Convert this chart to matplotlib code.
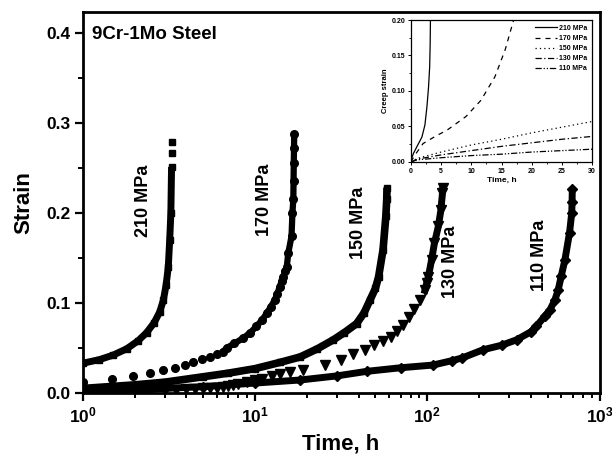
import math
import matplotlib
matplotlib.use("Agg")
import matplotlib.pyplot as plt
from matplotlib.ticker import MultipleLocator, LogLocator, NullFormatter, FuncFormatter

plt.rcParams['font.family'] = ['Liberation Sans', 'DejaVu Sans']
plt.rcParams['font.weight'] = 'bold'
plt.rcParams['mathtext.fontset'] = 'custom'
plt.rcParams['mathtext.rm'] = 'Liberation Sans:bold'
plt.rcParams['mathtext.bf'] = 'Liberation Sans:bold'

# main chart data: time (h) vs strain
t210 = [1.0, 1.25, 1.5, 1.8, 2.1, 2.35, 2.6, 2.8, 2.94, 3.05, 3.14, 3.2, 3.25, 3.28]
e210 = [0.033, 0.037, 0.042, 0.049, 0.058, 0.067, 0.078, 0.09, 0.103, 0.12, 0.14, 0.17, 0.2, 0.251]
t210_end = [3.30, 3.30]
e210_end = [0.266, 0.279]

t170 = [1.0, 1.47, 1.95, 2.46, 2.94, 3.43, 3.92, 4.38, 4.9, 5.47, 5.99, 6.55, 6.85, 7.6,
        8.56, 9.4, 10.2, 11.0, 11.7, 12.4, 13.0, 13.5, 13.9, 14.3, 14.6, 15.0, 15.3, 15.6,
        16.3, 16.5, 16.7, 16.75, 16.8, 16.85, 16.9]
e170 = [0.0126, 0.0155, 0.019, 0.0226, 0.0256, 0.028, 0.031, 0.034, 0.0374, 0.040, 0.043, 0.046, 0.050, 0.055,
        0.061, 0.067, 0.074, 0.081, 0.0885, 0.096, 0.103, 0.11, 0.118, 0.124, 0.129, 0.135, 0.140, 0.155,
        0.174, 0.20, 0.215, 0.235, 0.255, 0.272, 0.287]

t150 = [1.0, 2.0, 3.0, 5.0, 7.0, 10.0, 14.0, 18.3, 23.0, 28.5, 33.0, 38.9, 43.0, 46.5, 50.0,
        52.2, 55.4, 57.5, 58.2, 58.4]
e150 = [0.005, 0.009, 0.012, 0.018, 0.022, 0.027, 0.034, 0.040, 0.049, 0.059, 0.067, 0.077, 0.089, 0.103, 0.116,
        0.129, 0.159, 0.196, 0.215, 0.228]

t130 = [1.5, 2.0, 2.5, 3.0, 3.5, 4.0, 4.5, 5.0, 5.5, 6.0, 6.5, 7.0, 7.5, 8.0, 9.0, 10.0, 11.0,
        12.5, 14.0, 16.0, 19.1, 25.5, 31.4, 37.2, 43.7, 49.1, 55.0, 61.3, 66.9, 72.3, 78.6, 84.0,
        90.5, 97.0, 99.3, 101.5, 106.0, 110.0, 116.0, 120.0, 122.6, 123.0]
e130 = [0.001, 0.002, 0.002, 0.003, 0.003, 0.004, 0.004, 0.005, 0.005, 0.006, 0.007, 0.008, 0.009, 0.010, 0.012, 0.014, 0.016,
        0.019, 0.021, 0.0235, 0.0256, 0.031, 0.037, 0.043, 0.048, 0.053, 0.0578, 0.0626, 0.069, 0.0756, 0.084, 0.093,
        0.103, 0.114, 0.122, 0.129, 0.148, 0.166, 0.185, 0.203, 0.222, 0.228]

t110 = [1.0, 2.0, 3.0, 5.0, 10.0, 18.3, 30.0, 44.5, 70.0, 108.0, 140.0, 160.0, 211.0, 270.0, 330.0,
        400.0, 430.0, 480.0, 515.0, 550.0, 575.0, 600.0, 630.0, 670.0, 690.0, 693.0, 695.0]
e110 = [0.002, 0.003, 0.005, 0.007, 0.011, 0.0144, 0.019, 0.024, 0.028, 0.031, 0.036, 0.039, 0.048, 0.053, 0.059,
        0.068, 0.074, 0.085, 0.092, 0.103, 0.114, 0.13, 0.148, 0.178, 0.2, 0.212, 0.226]

# inset data: creep strain vs time (h)
it210 = [0, 0.1, 0.4, 1.0, 1.8, 2.3, 2.64, 2.9, 3.09, 3.17, 3.22]
ie210 = [0, 0.005, 0.012, 0.022, 0.035, 0.052, 0.078, 0.105, 0.134, 0.165, 0.2]
it170 = [0, 0.5, 2.0, 4.0, 6.0, 9.1, 11.6, 13.9, 15.6, 17.0]
ie170 = [0, 0.008, 0.026, 0.036, 0.045, 0.064, 0.087, 0.12, 0.158, 0.2]
it150 = [0, 1, 5, 10, 15, 20, 25, 30]
ie150 = [0, 0.005, 0.014, 0.024, 0.032, 0.041, 0.049, 0.057]
it130 = [0, 1, 5, 10, 15, 20, 25, 30]
ie130 = [0, 0.004, 0.010, 0.016, 0.022, 0.027, 0.032, 0.036]
it110 = [0, 1, 5, 10, 15, 20, 25, 30]
ie110 = [0, 0.003, 0.006, 0.009, 0.011, 0.014, 0.016, 0.018]
inset_labels = ['210 MPa', '170 MPa', '150 MPa', '130 MPa', '110 MPa']

fig = plt.figure(figsize=(6.12, 4.62), dpi=100)
ax = fig.add_axes([0.1351, 0.1494, 0.8445, 0.8247])

k = 'black'
# 210 MPa squares
ax.plot(t210, e210, '-', color=k, lw=5, solid_capstyle='butt')
ax.plot(t210, e210, 's', color=k, ms=5)
ax.plot(t210_end, e210_end, 's', color=k, ms=5)
# 170 MPa circles
ax.plot(t170[11:], e170[11:], '-', color=k, lw=4.5)
ax.plot(t170, e170, 'o', color=k, ms=5.5)
# 150 MPa squares
ax.plot(t150, e150, '-', color=k, lw=5.5, solid_capstyle='butt')
ax.plot(t150, e150, 's', color=k, ms=5)
# 110 MPa diamonds
ax.plot(t110, e110, '-', color=k, lw=5, solid_capstyle='butt')
ax.plot(t110, e110, 'D', color=k, ms=5)
# 130 MPa triangles
ax.plot(t130[33:], e130[33:], '-', color=k, lw=5)
ax.plot(t130, e130, 'v', color=k, ms=6.5)

ax.set_xscale('log')
ax.set_xlim(1, 1000)
ax.set_ylim(0, 0.423)
ax.yaxis.set_major_locator(MultipleLocator(0.1))
ax.yaxis.set_minor_locator(MultipleLocator(0.05))
ax.xaxis.set_major_locator(LogLocator(base=10))
ax.xaxis.set_minor_locator(LogLocator(base=10, subs=range(2, 10)))
ax.xaxis.set_minor_formatter(NullFormatter())
ax.xaxis.set_major_formatter(FuncFormatter(lambda v, p: r'$\mathbf{10^{%d}}$' % round(math.log10(v))))
ax.yaxis.set_major_formatter(FuncFormatter(lambda v, p: '%.1f' % v))
ax.tick_params(which='major', direction='out', length=6, width=1.6, labelsize=12.5, pad=3)
ax.tick_params(which='minor', direction='out', length=3.5, width=1.4)
ax.tick_params(top=False, right=False, which='both')
for s in ax.spines.values():
    s.set_linewidth(2.0)
ax.set_xlabel('Time, h', fontsize=16, fontweight='bold', labelpad=6)
ax.set_ylabel('Strain', fontsize=16, fontweight='bold', labelpad=8)

ax.text(0.018, 0.398, '9Cr-1Mo Steel', transform=ax.get_yaxis_transform(), fontsize=13.5,
        fontweight='bold', ha='left', va='center')
for lab, xp, yp in [('210 MPa', 2.25, 0.213), ('170 MPa', 11.3, 0.215), ('150 MPa', 40.0, 0.189),
                    ('130 MPa', 136.0, 0.146), ('110 MPa', 450.0, 0.153)]:
    ax.text(xp, yp, lab, rotation=90, fontsize=13, fontweight='bold', ha='center', va='center')

# inset
ins = fig.add_axes([0.6716, 0.6494, 0.2958, 0.3073])
ins.plot(it210, ie210, '-', color=k, lw=0.9, label=inset_labels[0])
ins.plot(it170, ie170, '--', color=k, lw=0.9, dashes=(4, 4), label=inset_labels[1])
ins.plot(it150, ie150, ':', color=k, lw=0.9, dashes=(1, 2.5), label=inset_labels[2])
ins.plot(it130, ie130, '-.', color=k, lw=0.9, dashes=(5, 2, 1, 2), label=inset_labels[3])
ins.plot(it110, ie110, color=k, lw=0.9, dashes=(5, 1.5, 1, 1.5, 1, 1.5), label=inset_labels[4])
ins.set_xlim(0, 30)
ins.set_ylim(0, 0.2)
ins.xaxis.set_major_locator(MultipleLocator(5))
ins.xaxis.set_minor_locator(MultipleLocator(2.5))
ins.yaxis.set_major_locator(MultipleLocator(0.05))
ins.yaxis.set_minor_locator(MultipleLocator(0.025))
ins.yaxis.set_major_formatter(FuncFormatter(lambda v, p: '%.2f' % v))
ins.tick_params(which='major', direction='out', length=2.5, width=0.7, labelsize=5, pad=1.5)
ins.tick_params(which='minor', direction='out', length=1.5, width=0.6)
for s in ins.spines.values():
    s.set_linewidth(0.9)
ins.set_xlabel('Time, h', fontsize=6, fontweight='bold', labelpad=2)
ins.set_ylabel('Creep strain', fontsize=5.5, fontweight='bold', labelpad=2)
ins.legend(loc='upper right', frameon=False, fontsize=5, handlelength=3.2, handletextpad=0.3,
           labelspacing=0.45, borderaxespad=0.3)

fig.savefig('out.png', dpi=100)
